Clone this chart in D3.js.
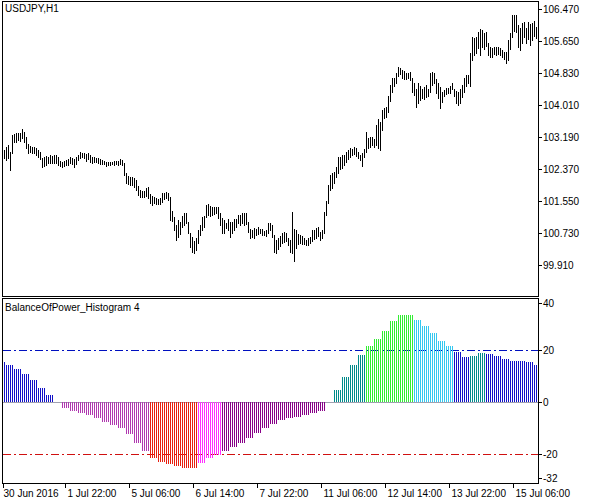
<!DOCTYPE html>
<html><head><meta charset="utf-8">
<script src="https://cdn.jsdelivr.net/npm/d3@7"></script>
<style>body{margin:0;background:#fff}svg{display:block}text{font-family:"Liberation Sans",Arial,sans-serif;font-size:10px;fill:#000}</style>
</head><body>
<script>
const highs=[102.86,102.94,102.99,102.81,103.24,103.27,103.29,103.29,103.29,103.39,103.32,103.19,103.01,102.96,102.94,102.94,102.91,102.86,102.81,102.65,
102.68,102.70,102.68,102.73,102.70,102.73,102.73,102.68,102.58,102.55,102.58,102.60,102.63,102.68,102.65,102.63,102.68,102.73,102.81,102.78,
102.78,102.76,102.78,102.73,102.68,102.68,102.65,102.65,102.63,102.60,102.58,102.55,102.55,102.55,102.55,102.58,102.58,102.58,102.63,102.60,
102.52,102.27,102.19,102.17,102.17,102.14,102.09,101.94,101.83,101.81,101.81,101.88,101.91,101.73,101.68,101.65,101.63,101.60,101.63,101.75,
101.75,101.78,101.75,101.65,101.29,101.14,100.93,101.06,101.01,101.17,101.24,101.24,101.01,100.73,100.63,100.52,100.60,100.81,100.93,101.14,
101.17,101.45,101.47,101.42,101.40,101.40,101.40,101.40,101.24,101.11,101.06,100.99,101.09,101.01,101.01,101.09,101.09,101.19,101.19,101.24,
101.24,101.24,101.01,100.83,100.81,100.86,100.83,100.88,100.83,100.83,100.78,100.81,100.99,100.99,100.93,100.68,100.55,100.60,100.65,100.73,
100.75,100.73,100.60,100.55,101.27,100.83,100.81,100.70,100.68,100.65,100.60,100.55,100.60,100.63,100.81,100.81,100.86,100.88,100.75,100.81,
101.27,101.55,101.96,102.22,102.27,102.29,102.42,102.68,102.68,102.73,102.73,102.81,102.86,102.91,102.88,102.94,102.91,102.81,102.73,102.78,
102.88,103.32,103.16,103.19,103.19,103.14,103.50,103.65,103.57,103.88,103.93,103.96,104.24,104.52,104.70,104.70,104.83,104.98,104.96,104.91,
104.88,104.83,104.83,104.86,104.70,104.57,104.42,104.57,104.50,104.42,104.47,104.52,104.42,104.83,104.86,104.83,104.68,104.57,104.47,104.34,
104.39,104.45,104.45,104.50,104.57,104.42,104.37,104.34,104.42,104.52,104.70,104.78,104.78,105.34,105.75,105.73,105.75,105.88,105.96,105.93,
105.86,105.88,105.60,105.50,105.47,105.50,105.50,105.50,105.47,105.42,105.37,105.37,105.68,105.86,106.32,106.32,106.32,106.06,105.98,106.11,
106.14,105.98,106.14,106.09,106.11,106.16,106.01];
const lows=[102.65,102.60,102.65,102.34,102.78,103.06,103.06,103.11,103.09,103.16,103.06,102.91,102.78,102.81,102.78,102.78,102.73,102.68,102.63,102.42,
102.45,102.47,102.52,102.52,102.52,102.52,102.52,102.47,102.45,102.42,102.45,102.47,102.47,102.52,102.50,102.42,102.50,102.60,102.65,102.68,
102.65,102.58,102.63,102.55,102.52,102.55,102.55,102.52,102.50,102.50,102.50,102.45,102.47,102.47,102.50,102.47,102.50,102.47,102.50,102.47,
102.22,102.01,101.99,101.96,101.96,101.91,101.83,101.70,101.65,101.65,101.65,101.68,101.63,101.50,101.45,101.50,101.47,101.47,101.47,101.52,
101.60,101.63,101.58,101.06,101.04,100.81,100.55,100.63,100.70,100.88,100.93,100.99,100.73,100.37,100.24,100.22,100.29,100.47,100.68,100.81,
100.88,101.14,101.19,101.17,101.19,101.22,101.24,101.11,100.93,100.73,100.73,100.86,100.81,100.63,100.73,100.81,100.88,100.99,100.93,100.99,
100.93,100.96,100.75,100.60,100.63,100.60,100.68,100.70,100.73,100.68,100.68,100.65,100.73,100.81,100.63,100.24,100.22,100.32,100.40,100.47,
100.50,100.52,100.42,100.24,100.22,100.00,100.35,100.45,100.47,100.45,100.45,100.42,100.42,100.47,100.52,100.58,100.60,100.65,100.55,100.60,
100.73,101.19,101.50,101.83,101.88,102.01,102.17,102.27,102.37,102.40,102.47,102.55,102.63,102.68,102.73,102.76,102.70,102.65,102.60,102.45,
102.68,102.81,102.91,102.94,102.99,102.94,102.99,102.91,102.86,103.37,103.68,103.70,103.83,104.11,104.34,104.50,104.57,104.75,104.80,104.70,
104.68,104.68,104.70,104.65,104.34,104.27,103.96,104.06,104.14,104.19,104.16,104.21,104.24,104.34,104.52,104.57,104.32,104.19,103.93,104.09,
104.24,104.29,104.32,104.32,104.42,104.24,104.06,104.01,104.06,104.21,104.34,104.50,104.57,104.50,105.16,105.29,105.34,105.47,105.29,105.50,
105.44,105.52,105.29,105.24,105.24,105.32,105.29,105.32,105.29,105.24,105.19,105.09,105.16,105.44,105.75,105.91,105.88,105.50,105.42,105.60,
105.75,105.60,105.70,105.55,105.68,105.78,105.73];
const bopFirst=15.5;
const bopGroups=[14.2,12.7,10.8,8.5,5.3,2.7,0,-2.2,-3.3,-4.1,-5.0,-6.3,-7.6,-8.8,-10.1,-12.3,-15.6,-18.7,
-21.7,-23.0,-23.8,-24.6,-25.3,-25.4,-23.6,-21.7,-20.2,-18.7,-17.2,-15.6,-14.0,-11.8,-10.1,-8.5,-7.0,-6.0,-5.6,-5.0,-4.4,-3.3,0,
4.6,9.7,14.2,18.1,21.5,24.1,27.3,31.2,33.5,33.5,31.5,29.2,26.7,23.5,21.5,19.2,17.5,17.7,18.9,18.5,17.7,16.5,15.8,15.8,15.5,14.2];
const priceTicks=[106.47,105.65,104.83,104.01,103.19,102.37,101.55,100.73,99.91];
const bopTicks=[40,20,0,-20,-32];
const timeIdx=[0,31,63,95,127,159,191,223,255];
const timeLabels=["30 Jun 2016","1 Jul 22:00","5 Jul 06:00","6 Jul 14:00","7 Jul 22:00","11 Jul 06:00","12 Jul 14:00","13 Jul 22:00","15 Jul 06:00"];

const N=highs.length;
const bop=[bopFirst];
bopGroups.forEach(v=>{for(let k=0;k<4&&bop.length<N;k++)bop.push(v);});
// colour per group
const gcol=[];let prev=null,rising=false;
[bopFirst,...bopGroups].forEach(v=>{
  if(prev!==null){if(v>prev)rising=true;else if(v<prev)rising=false;}
  let c;
  if(v>20)c=rising?"#33ee33":"#33c8f0";
  else if(v>0)c=rising?"#008b8b":"#1010c8";
  else if(v<-20)c=rising?"#ff30ff":"#e82010";
  else if(v<0)c=rising?"#880088":"#b038b0";
  else c="none";
  gcol.push(c);prev=v;});
const barCol=i=>i===0?gcol[0]:gcol[1+Math.floor((i-1)/4)];

const W=590,H=504;
const svg=d3.select("body").append("svg").attr("width",W).attr("height",H).attr("shape-rendering","crispEdges");
const L=2,R=538,pTop=1,pBot=296,hTop=298,hBot=483;
const x=d3.scaleLinear().domain([0,N-1]).range([4,536]);
const yP=d3.scaleLinear().domain([99.91,106.47]).range([265,9]);
const yH=d3.scaleLinear().domain([0,20]).range([402,350]);

// frames
svg.append("rect").attr("x",L+0.5).attr("y",pTop+0.5).attr("width",R-L).attr("height",pBot-pTop).attr("fill","none").attr("stroke","#000");
svg.append("rect").attr("x",L+0.5).attr("y",hTop+0.5).attr("width",R-L).attr("height",hBot-hTop).attr("fill","none").attr("stroke","#000");

// price bars
svg.append("g").selectAll("line").data(highs).join("line")
 .attr("x1",(d,i)=>Math.round(x(i))+0.5).attr("x2",(d,i)=>Math.round(x(i))+0.5)
 .attr("y1",d=>Math.round(yP(d))).attr("y2",(d,i)=>Math.round(yP(lows[i]))+1).attr("stroke","#000");

// price axis
const pa=svg.append("g");
priceTicks.forEach(t=>{const yy=Math.round(yP(t))+0.5;
 pa.append("line").attr("x1",R).attr("x2",R+4).attr("y1",yy).attr("y2",yy).attr("stroke","#000");
 pa.append("text").attr("x",R+5).attr("y",yy+3.5).text(d3.format(".3f")(t));});
svg.append("text").attr("x",5).attr("y",12).text("USDJPY,H1");

// histogram levels
svg.append("line").attr("x1",L+1).attr("x2",R).attr("y1",yH(0)+0.5).attr("y2",yH(0)+0.5).attr("stroke","#a0a0b0");
[[20,"#0010c0"],[-20,"#d01010"]].forEach(([v,c])=>svg.append("line").attr("x1",L+1).attr("x2",R).attr("y1",yH(v)+0.5).attr("y2",yH(v)+0.5).attr("stroke",c).attr("stroke-dasharray","8,3,2,3"));
// histogram bars
svg.append("g").selectAll("line").data(bop).join("line")
 .attr("x1",(d,i)=>Math.round(x(i))+0.5).attr("x2",(d,i)=>Math.round(x(i))+0.5)
 .attr("y1",yH(0)).attr("y2",d=>yH(d)).attr("stroke",(d,i)=>barCol(i));
svg.append("text").attr("x",5).attr("y",311).text("BalanceOfPower_Histogram 4");
const ha=svg.append("g");
bopTicks.forEach(t=>{let yy=Math.round(yH(t))+0.5;yy=Math.max(hTop+5,Math.min(hBot-5,yy));
 ha.append("line").attr("x1",R).attr("x2",R+4).attr("y1",yy).attr("y2",yy).attr("stroke","#000");
 ha.append("text").attr("x",R+5).attr("y",yy+3.5).text(t);});

// time axis
timeIdx.forEach((ix,k)=>{const xx=Math.round(x(ix))-1+0.5;
 svg.append("line").attr("x1",xx).attr("x2",xx).attr("y1",hBot).attr("y2",hBot+5).attr("stroke","#000");
 svg.append("text").attr("x",xx+(k===0?0:2)).attr("y",497).text(timeLabels[k]);});
</script>
</body></html>
